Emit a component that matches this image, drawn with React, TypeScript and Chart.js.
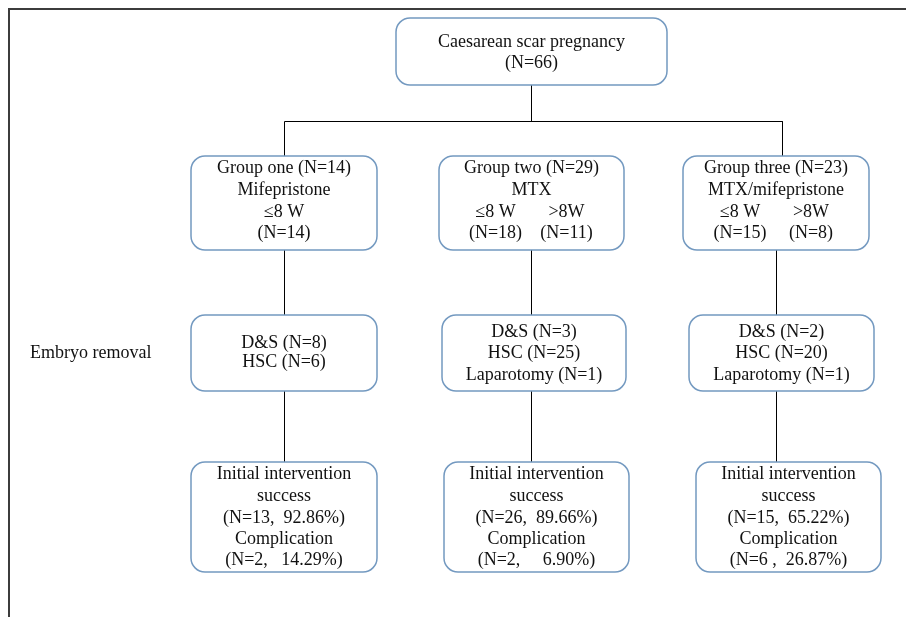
import React, { useEffect, useRef } from "react";
import { Chart, registerables } from "chart.js";

Chart.register(...registerables);

// ---- Text content of the flowchart nodes ----
const rootLines = ["Caesarean scar pregnancy", "(N=66)"];
const groupLines = [
  ["Group one (N=14)", "Mifepristone", "≤8 W", "(N=14)"],
  ["Group two (N=29)", "MTX", "≤8 W\t>8W", "(N=18)\t(N=11)"],
  ["Group three (N=23)", "MTX/mifepristone", "≤8 W\t>8W", "(N=15)\t(N=8)"],
];
const removalLines = [
  ["D&S (N=8)", "HSC (N=6)"],
  ["D&S (N=3)", "HSC (N=25)", "Laparotomy (N=1)"],
  ["D&S (N=2)", "HSC (N=20)", "Laparotomy (N=1)"],
];
const outcomeLines = [
  ["Initial intervention", "success", "(N=13,  92.86%)", "Complication", "(N=2,   14.29%)"],
  ["Initial intervention", "success", "(N=26,  89.66%)", "Complication", "(N=2,     6.90%)"],
  ["Initial intervention", "success", "(N=15,  65.22%)", "Complication", "(N=6 ,  26.87%)"],
];
const sideLabel = "Embryo removal";

// ---- Layout (in scale units: x 0..906, y 0..617 downward) ----
const W = 906;
const H = 617;
type Box = { x0: number; x1: number; y0: number; y1: number; lineY: number[] };
const rootBox: Box = { x0: 396, x1: 667, y0: 18, y1: 85, lineY: [42, 63] };
const groupBoxes: Box[] = [
  { x0: 191, x1: 377, y0: 156, y1: 250, lineY: [168, 190, 212, 233] },
  { x0: 439, x1: 624, y0: 156, y1: 250, lineY: [168, 190, 212, 233] },
  { x0: 683, x1: 869, y0: 156, y1: 250, lineY: [168, 190, 212, 233] },
];
const removalBoxes: Box[] = [
  { x0: 191, x1: 377, y0: 315, y1: 391, lineY: [343, 362] },
  { x0: 442, x1: 626, y0: 315, y1: 391, lineY: [332, 353, 375] },
  { x0: 689, x1: 874, y0: 315, y1: 391, lineY: [332, 353, 375] },
];
const outcomeBoxes: Box[] = [
  { x0: 191, x1: 377, y0: 462, y1: 572, lineY: [474, 496, 518, 539, 560] },
  { x0: 444, x1: 629, y0: 462, y1: 572, lineY: [474, 496, 518, 539, 560] },
  { x0: 696, x1: 881, y0: 462, y1: 572, lineY: [474, 496, 518, 539, 560] },
];
const sideLabelPos = { x: 30, y: 353 };

// connector polylines
const connectors = [
  [{ x: 531.5, y: 85 }, { x: 531.5, y: 121.5 }],
  [{ x: 284.5, y: 156 }, { x: 284.5, y: 121.5 }, { x: 782.5, y: 121.5 }, { x: 782.5, y: 156 }],
  [{ x: 284.5, y: 250 }, { x: 284.5, y: 315 }],
  [{ x: 284.5, y: 391 }, { x: 284.5, y: 462 }],
  [{ x: 531.5, y: 250 }, { x: 531.5, y: 315 }],
  [{ x: 531.5, y: 391 }, { x: 531.5, y: 462 }],
  [{ x: 776.5, y: 250 }, { x: 776.5, y: 315 }],
  [{ x: 776.5, y: 391 }, { x: 776.5, y: 462 }],
];
const frame = [{ x: W, y: 9 }, { x: 9, y: 9 }, { x: 9, y: H }];

const FONT = '18px "Liberation Serif", "Times New Roman", serif';
const BOX_COLOR = "#7399c0";

const boxPlugin = {
  id: "flowBoxes",
  afterDatasetsDraw(chart: any) {
    const ctx = chart.ctx as CanvasRenderingContext2D;
    const xs = chart.scales.x;
    const ys = chart.scales.y;
    const px = (v: number) => xs.getPixelForValue(v);
    const py = (v: number) => ys.getPixelForValue(v);

    const drawBox = (b: Box, lines: string[]) => {
      const x0 = px(b.x0), x1 = px(b.x1), y0 = py(b.y0), y1 = py(b.y1);
      ctx.save();
      ctx.beginPath();
      (ctx as any).roundRect(x0, y0, x1 - x0, y1 - y0, 14);
      ctx.fillStyle = "#ffffff";
      ctx.fill();
      ctx.lineWidth = 1.5;
      ctx.strokeStyle = BOX_COLOR;
      ctx.stroke();
      ctx.fillStyle = "#111111";
      ctx.font = FONT;
      ctx.textBaseline = "middle";
      ctx.textAlign = "center";
      const cx = (x0 + x1) / 2;
      lines.forEach((t, i) => {
        const y = py(b.lineY[i]);
        if (t.includes("\t")) {
          const [a, c] = t.split("\t");
          ctx.fillText(a, cx - 36, y);
          ctx.fillText(c, cx + 35, y);
        } else {
          ctx.fillText(t, cx, y);
        }
      });
      ctx.restore();
    };

    drawBox(rootBox, rootLines);
    groupBoxes.forEach((b, i) => drawBox(b, groupLines[i]));
    removalBoxes.forEach((b, i) => drawBox(b, removalLines[i]));
    outcomeBoxes.forEach((b, i) => drawBox(b, outcomeLines[i]));

    ctx.save();
    ctx.fillStyle = "#111111";
    ctx.font = FONT;
    ctx.textBaseline = "middle";
    ctx.textAlign = "left";
    ctx.fillText(sideLabel, px(sideLabelPos.x), py(sideLabelPos.y));
    ctx.restore();
  },
};

export default function App() {
  const ref = useRef<HTMLCanvasElement | null>(null);
  useEffect(() => {
    if (!ref.current) return;
    const datasets: any[] = connectors.map((pts) => ({
      data: pts,
      showLine: true,
      borderColor: "#000000",
      borderWidth: 1,
      pointRadius: 0,
      fill: false,
    }));
    datasets.push({
      data: frame,
      showLine: true,
      borderColor: "#3c3c3c",
      borderWidth: 2,
      pointRadius: 0,
      fill: false,
    });
    const chart = new Chart(ref.current, {
      type: "scatter",
      data: { datasets },
      options: {
        animation: false,
        responsive: true,
        maintainAspectRatio: false,
        layout: { padding: 0 },
        plugins: { legend: { display: false }, tooltip: { enabled: false } },
        events: [],
        scales: {
          x: { type: "linear", min: 0, max: W, display: false },
          y: { type: "linear", min: 0, max: H, reverse: true, display: false },
        },
      },
      plugins: [boxPlugin],
    });
    return () => chart.destroy();
  }, []);
  return (
    <div style={{ position: "fixed", left: 0, top: 0, width: W, height: H, background: "#fff" }}>
      <canvas ref={ref} />
    </div>
  );
}
